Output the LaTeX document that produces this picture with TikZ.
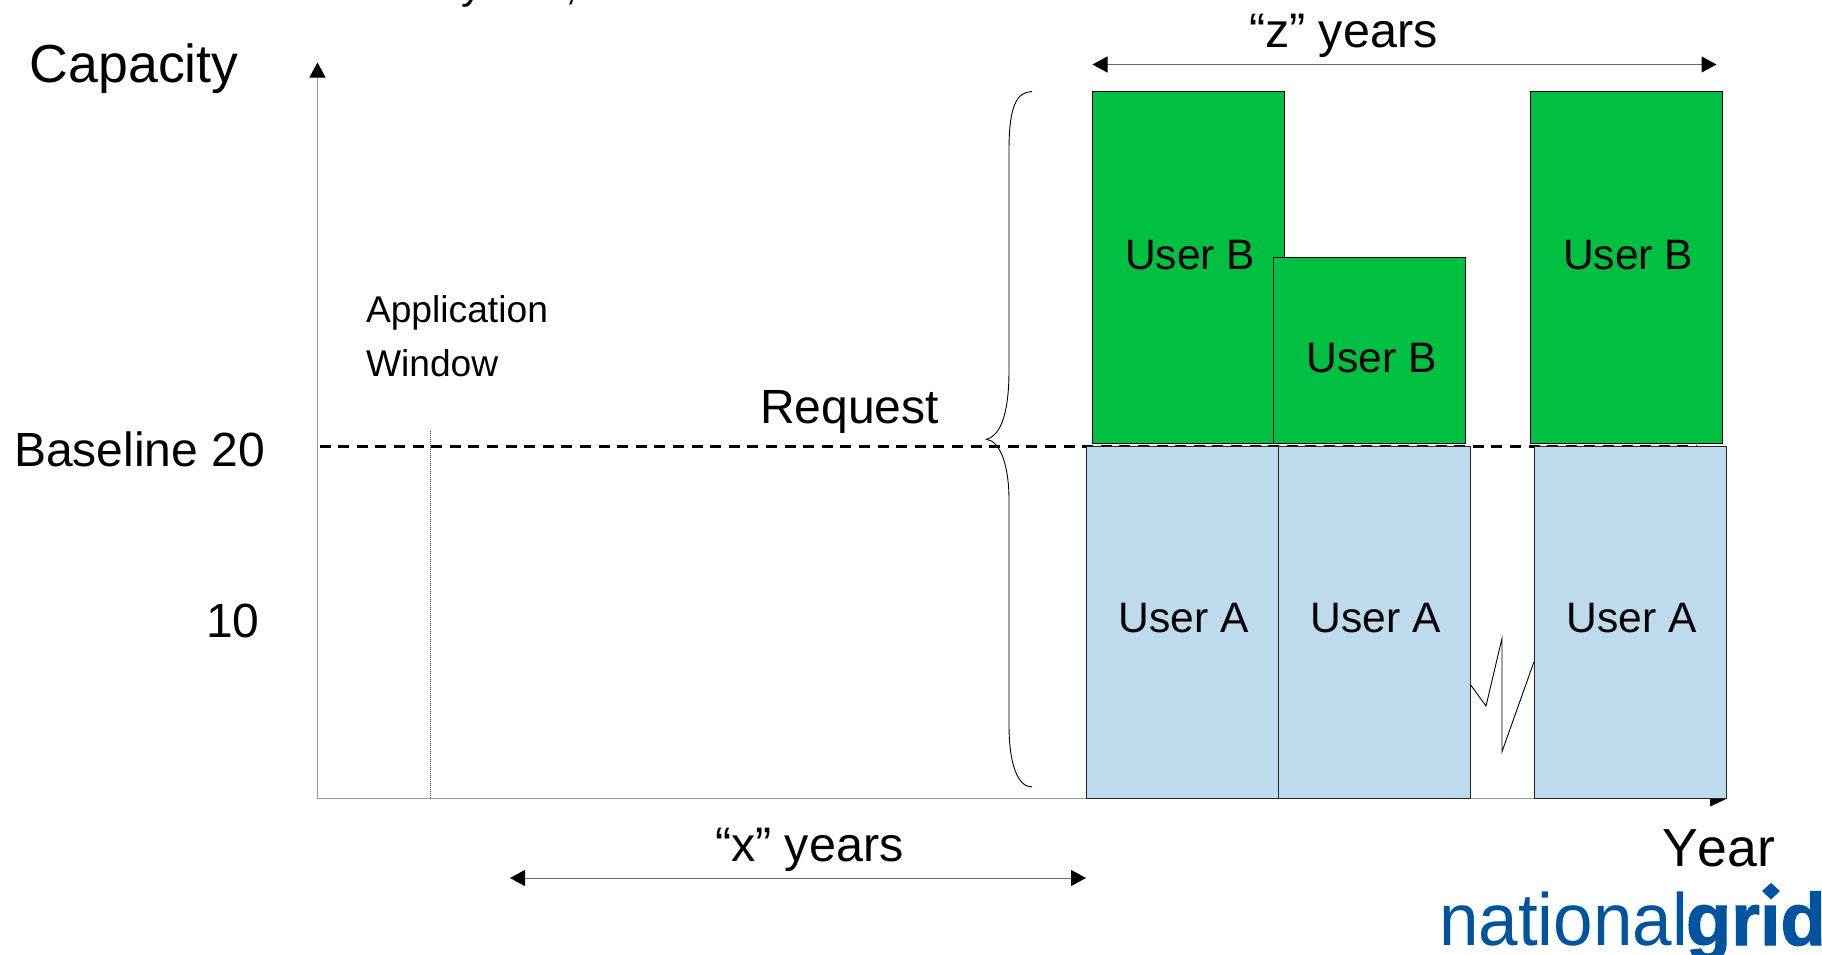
\documentclass[tikz,border=0pt]{standalone}
\usepackage{fontspec}
\setmainfont[Kerning=Off]{Liberation Sans}
\newfontfamily\logobold[Kerning=Off,BoldFeatures={FakeBold=1.6}]{Liberation Sans}
\usetikzlibrary{arrows.meta}
\definecolor{usergreen}{HTML}{00BF41}
\definecolor{userblue}{HTML}{BDDBEC}
\definecolor{axisgrey}{HTML}{9A9A9A}
\definecolor{ngblue}{HTML}{00539F}
\tikzset{
  x=0.5pt,y=-0.5pt,
  txt/.style={inner sep=0pt,outer sep=0pt,anchor=base west,text=black},
  big/.style={txt,font=\fontsize{26.8}{30}\selectfont},
  mid/.style={txt,font=\fontsize{24}{28}\selectfont},
  span/.style={txt,font=\fontsize{24.25}{28}\selectfont},
  usr/.style={txt,font=\fontsize{21.3}{25}\selectfont},
  small/.style={txt,font=\fontsize{18.6}{22}\selectfont},
  logo/.style={inner sep=0pt,outer sep=0pt,anchor=base west,text=ngblue,font=\fontsize{37}{40}\selectfont},
  greenbox/.style={draw=black,line width=0.5pt,fill=usergreen,inner sep=0pt,outer sep=0pt},
  bluebox/.style={draw=black!85,line width=0.5pt,fill=userblue,inner sep=0pt,outer sep=0pt},
  axisline/.style={draw=axisgrey,line width=0.5pt},
  tipped/.style={draw=axisgrey!70!black,line width=0.5pt,{Triangle[length=7.5pt,width=8pt,black]}-{Triangle[length=7.5pt,width=8pt,black]}},
  thinblack/.style={draw=black,line width=0.45pt},
}
\begin{document}
\begin{tikzpicture}
\useasboundingbox (0,0) rectangle (1822,954);
\fill[white] (0,0) rectangle (1822,954);
% cut-off text at the top edge
\node[usr] (cuty) at (461,-2) {y};
\node[usr] (cutc) at (565,-1) {,};
% coordinates
\coordinate (org) at (317.5,798.5);
\coordinate (ytip) at (317.5,62.5);
\coordinate (xtip) at (1727,798.5);
\coordinate (dashL) at (319.5,446);
\coordinate (dashR) at (1697,446);
\coordinate (winT) at (430,431);
\coordinate (winB) at (430,798.5);
\coordinate (xL) at (510,878);
\coordinate (xR) at (1086,878);
\coordinate (zL) at (1092.5,64.5);
\coordinate (zR) at (1716.5,64.5);
% axes
\draw[axisline,-{Triangle[length=7.5pt,width=8pt,black]}] (org) -- (ytip);
\draw[axisline,-{Triangle[length=8.5pt,width=8pt,black]}] (org) -- (xtip);
\draw[draw=black!70,line width=0.5pt,dash pattern=on 0.6pt off 0.4pt] (winT) -- (winB);
\draw[draw=black,line width=1.5pt,dash pattern=on 5.5pt off 3.8pt] (dashL) -- (dashR);
% boxes
\node[bluebox,minimum width=96pt,minimum height=176.3pt] (a1) at (1182,622.3) {};
\node[bluebox,minimum width=96.1pt,minimum height=176.3pt] (a2) at (1374.2,622.3) {};
\node[bluebox,minimum width=96pt,minimum height=176.3pt] (a3) at (1630,622.3) {};
\node[greenbox,minimum width=96pt,minimum height=176pt] (b1) at (1188.5,267) {};
\node[greenbox,minimum width=96pt,minimum height=92.7pt] (b2) at (1369.5,350.5) {};
\node[greenbox,minimum width=96.2pt,minimum height=176pt] (b3) at (1626.7,267) {};
% box labels
\node[usr] (lb1) at (1125,269) {User B};
\node[usr] (lb2) at (1306.5,372) {User B};
\node[usr] (lb3) at (1563,269) {User B};
\node[usr] (la1) at (1118.5,632) {User A};
\node[usr] (la2) at (1310.5,632) {User A};
\node[usr] (la3) at (1566.5,632) {User A};
% brace
\coordinate (brT) at (1032,91.5);
\coordinate (brM) at (986.5,439.3);
\coordinate (brB) at (1032,787);
\draw[thinblack] (brT) .. controls (1017,92) and (1009,105) .. (1009,150) -- (1009,370) .. controls (1009,410) and (1002,435) .. (brM) .. controls (1000,441) and (1009,465) .. (1009,500) -- (1009,725) .. controls (1009,765) and (1018,787) .. (brB);
% zigzag
\coordinate (zz1) at (1470.7,685);
\coordinate (zz2) at (1486,706);
\coordinate (zz3) at (1502,638.3);
\coordinate (zz4) at (1502,751.7);
\coordinate (zz5) at (1534,661.7);
\draw[thinblack] (zz1) -- (zz2) -- (zz3) -- (zz4) -- (zz5);
% dimension arrows
\draw[tipped] (xL) -- (xR);
\draw[tipped] (zL) -- (zR);
% texts
\node[big] (cap) at (30,82) {Capacity};
\node[big] (year) at (1662,866) {Year};
\node[small] (app) at (366,322) {Application};
\node[small] (win) at (366,376) {Window};
\node[mid] (base) at (14,466) {Baseline 20};
\node[mid] (ten) at (206,637) {10};
\node[mid] (req) at (760,423) {Request};
\node[span] (xy) at (715,861) {“x” years};
\node[span] (zy) at (1249,47.5) {“z” years};
% logo
\node[logo,xscale=0.96] (ngn) at (1439,945) {national};
\node[logo,xscale=1.0] (ngg) at (1686,945) {\logobold\bfseries grid};
\fill[white] (1760,884) rectangle (1788,901);
\fill[ngblue] (1771,883) -- (1780,891) -- (1771,899.5) -- (1762,891) -- cycle;
\end{tikzpicture}
\end{document}
